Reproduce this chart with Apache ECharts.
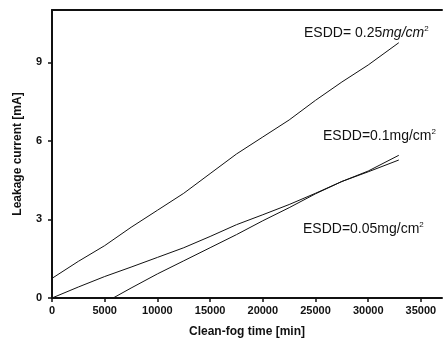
<!DOCTYPE html>
<html>
<head>
<meta charset="utf-8">
<script src="https://cdn.jsdelivr.net/npm/echarts@6/dist/echarts.min.js"></script>
<style>html,body{margin:0;padding:0;background:#fff}#c{width:443px;height:347px}</style>
</head>
<body>
<div id="c"></div>
<script>
// Data (x: clean-fog time in min, y: leakage current in mA)
var xTicks = [0, 5000, 10000, 15000, 20000, 25000, 30000, 35000];
var yTicks = [0, 3, 6, 9];
var esdd025X = [0, 2500, 5000, 7500, 10000, 12500, 15000, 17500, 20000, 22500, 25000, 27500, 30000, 32900];
var esdd025Y = [0.75, 1.4, 2.0, 2.7, 3.35, 4.0, 4.75, 5.5, 6.15, 6.8, 7.55, 8.25, 8.9, 9.75];
var esdd01X = [0, 2500, 5000, 7500, 10000, 12500, 15000, 17500, 20000, 22500, 25000, 27500, 30000, 32900];
var esdd01Y = [0, 0.42, 0.82, 1.18, 1.55, 1.92, 2.35, 2.8, 3.18, 3.57, 4.0, 4.45, 4.85, 5.45];
var esdd005X = [5800, 7500, 10000, 12500, 15000, 17500, 20000, 22500, 25000, 27500, 30000, 32900];
var esdd005Y = [0, 0.38, 0.92, 1.42, 1.92, 2.42, 2.95, 3.45, 3.98, 4.45, 4.82, 5.27];
var labels = ['ESDD= 0.25', 'ESDD=0.1', 'ESDD=0.05'];

function pairs(xs, ys) { return xs.map(function (x, i) { return [x, ys[i]]; }); }

var chart = echarts.init(document.getElementById('c'), null, {renderer: 'canvas'});
var font = '"Liberation Sans", Arial, sans-serif';
var lineStyle = {color: '#111', width: 1};
function mk(name, xs, ys) {
  return {type: 'line', name: name, data: pairs(xs, ys), showSymbol: false, symbol: 'none',
    lineStyle: lineStyle, smooth: false, animation: false, silent: true};
}
function ann(main, left, top, italic) {
  return {type: 'text', left: left, top: top,
    style: {text: '{a|' + main + '}{b|mg/cm}{s|2}', rich: {
      a: {fontFamily: font, fontSize: 14, fill: '#111', fontWeight: 'normal'},
      b: {fontFamily: font, fontSize: 14, fill: '#111', fontStyle: italic ? 'italic' : 'normal'},
      s: {fontFamily: font, fontSize: 8, fill: '#111', verticalAlign: 'top', padding: [0, 0, 8, 0]}
    }}};
}
chart.setOption({
  animation: false,
  grid: {left: 52, top: 10, right: 1, bottom: 49},
  xAxis: [{
    type: 'value', min: 0, max: 37000, interval: 5000,
    name: 'Clean-fog time [min]', nameLocation: 'middle', nameGap: 28,
    nameTextStyle: {fontFamily: font, fontSize: 12, fontWeight: 'bold', color: '#111'},
    axisLine: {lineStyle: {color: '#111', width: 2}},
    axisTick: {show: true, inside: false, length: 4, lineStyle: {color: '#111', width: 1.5}},
    axisLabel: {fontFamily: font, fontSize: 11, fontWeight: 'bold', color: '#111', margin: 7, showMaxLabel: false,
      formatter: function (v) { return String(v); }},
    splitLine: {show: false}
  }, {
    type: 'value', position: 'top', min: 0, max: 37000,
    axisLine: {show: true, lineStyle: {color: '#111', width: 2}},
    axisTick: {show: false}, axisLabel: {show: false}, splitLine: {show: false}
  }],
  yAxis: {
    type: 'value', min: 0, max: 11, interval: 3,
    name: 'Leakage current [mA]', nameLocation: 'middle', nameGap: 28,
    nameTextStyle: {fontFamily: font, fontSize: 12, fontWeight: 'bold', color: '#111'},
    axisLine: {show: true, lineStyle: {color: '#111', width: 2}},
    axisTick: {show: true, inside: false, length: 4, lineStyle: {color: '#111', width: 1.5}},
    axisLabel: {fontFamily: font, fontSize: 11, fontWeight: 'bold', color: '#111', margin: 10, showMaxLabel: false},
    splitLine: {show: false}
  },
  series: [
    mk('0.25', esdd025X, esdd025Y),
    mk('0.1', esdd01X, esdd01Y),
    mk('0.05', esdd005X, esdd005Y)
  ],
  graphic: [
    ann(labels[0], 304, 25, true),
    ann(labels[1], 323, 128, false),
    ann(labels[2], 303, 221, false)
  ]
});
</script>
</body>
</html>
